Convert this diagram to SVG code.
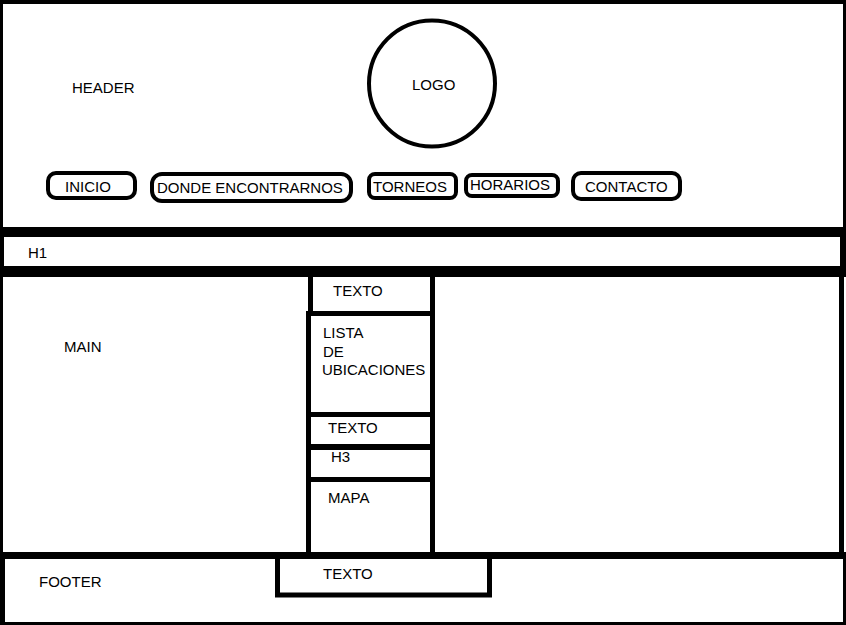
<svg xmlns="http://www.w3.org/2000/svg" width="846" height="625" viewBox="0 0 846 625">
<style>
text{font-family:"Liberation Sans",Arial,sans-serif;font-size:15px;fill:#000}
.b{fill:#000}
.btn{fill:#fff;stroke:#000;stroke-width:4}
.box{fill:none;stroke:#000;stroke-width:5}
</style>
<rect x="0" y="0" width="846" height="625" fill="#fff"/>
<g id="header">
<rect class="b" x="0" y="0" width="846" height="4"/>
<rect class="b" x="0" y="0" width="3" height="237"/>
<rect class="b" x="843" y="0" width="3" height="237"/>
<text x="72" y="93">HEADER</text>
</g>
<g id="logo">
<circle cx="432" cy="83.5" r="63" fill="#fff" stroke="#000" stroke-width="4"/>
<text x="412" y="90">LOGO</text>
</g>
<g id="nav-inicio">
<rect class="btn" x="48" y="173" width="87" height="25" rx="8"/>
<text x="65" y="192">INICIO</text>
</g>
<g id="nav-donde">
<rect class="btn" x="152" y="174" width="199" height="27" rx="10"/>
<text x="157" y="193">DONDE ENCONTRARNOS</text>
</g>
<g id="nav-torneos">
<rect class="btn" x="369" y="174" width="87" height="24" rx="6"/>
<text x="373" y="192">TORNEOS</text>
</g>
<g id="nav-horarios">
<rect class="btn" x="466" y="175" width="92" height="21" rx="6"/>
<text x="470" y="190">HORARIOS</text>
</g>
<g id="nav-contacto">
<rect class="btn" x="573" y="173" width="107" height="26" rx="8"/>
<text x="585" y="192">CONTACTO</text>
</g>
<g id="h1">
<rect class="b" x="0" y="227" width="846" height="10"/>
<rect class="b" x="0" y="227" width="4" height="50"/>
<rect class="b" x="840" y="227" width="6" height="50"/>
<rect class="b" x="0" y="266" width="846" height="11"/>
<text x="28" y="258">H1</text>
</g>
<g id="main">
<rect class="b" x="0" y="266" width="3" height="293"/>
<rect class="b" x="839" y="266" width="5" height="293"/>
<rect class="b" x="0" y="552" width="846" height="7"/>
<text x="64" y="352">MAIN</text>
</g>
<g id="main-texto">
<rect class="b" x="308" y="272" width="5" height="44"/>
<rect class="b" x="430" y="272" width="5" height="285"/>
<rect class="b" x="306" y="311" width="129" height="5"/>
<text x="333" y="296">TEXTO</text>
</g>
<g id="lista">
<rect class="b" x="306" y="311" width="5" height="246"/>
<text x="323" y="338">LISTA</text>
<text x="323" y="357">DE</text>
<text x="322" y="375">UBICACIONES</text>
</g>
<g id="main-texto2">
<rect class="b" x="306" y="412" width="129" height="5"/>
<text x="328" y="433">TEXTO</text>
</g>
<g id="h3">
<rect class="b" x="306" y="444" width="129" height="6"/>
<text x="331" y="462">H3</text>
</g>
<g id="mapa">
<rect class="b" x="306" y="477" width="129" height="5"/>
<text x="328" y="503">MAPA</text>
</g>
<g id="footer">
<rect class="b" x="0" y="552" width="5" height="73"/>
<rect class="b" x="843" y="552" width="3" height="73"/>
<rect class="b" x="0" y="622" width="846" height="3"/>
<text x="39" y="587">FOOTER</text>
</g>
<g id="footer-texto">
<rect class="box" x="277.5" y="556" width="212" height="39"/>
<text x="323" y="579">TEXTO</text>
</g>
<g id="connectors"></g>
</svg>
